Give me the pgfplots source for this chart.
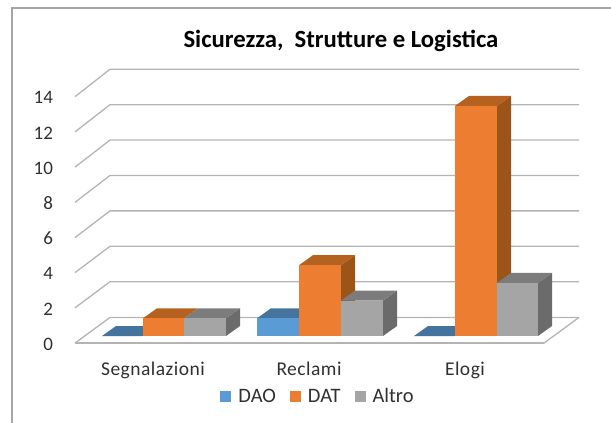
\documentclass[border=0pt]{standalone}
\usepackage{fontspec}
\setmainfont{Carlito}
\usepackage{pgfplots}
\pgfplotsset{compat=1.18}
\definecolor{blueF}{HTML}{5B9BD5}\definecolor{blueT}{HTML}{44739E}
\definecolor{oranF}{HTML}{ED7D31}\definecolor{oranT}{HTML}{B5611F}\definecolor{oranS}{HTML}{9C5419}
\definecolor{grayF}{HTML}{A5A5A5}\definecolor{grayT}{HTML}{7C7C7C}\definecolor{grayS}{HTML}{6B6B6B}
\definecolor{gridc}{HTML}{B4B4B4}\definecolor{txt}{HTML}{303030}
\pgfplotsset{grid3d/.style={draw=gridc,line width=1.3pt,no marks,forget plot,sharp plot},
 face/.style={draw=none,no marks,forget plot,sharp plot},
 barf/.style={draw=none,no marks,forget plot,ybar,bar width=41.6pt,bar shift=0pt}}
\begin{document}
\begin{tikzpicture}
\begin{axis}[name=ax,scale only axis,width=611pt,height=423pt,clip=false,
 xmin=0,xmax=611,ymin=-4.915,ymax=18.983,
 axis line style={draw=none},tick style={draw=none},
 xtick={153,309,465},xticklabels={Segnalazioni,Reclami,Elogi},
 ytick={-0.4,1.59,3.58,5.56,7.55,9.54,11.53,13.52},
 yticklabels={0,2,4,6,8,10,12,14},
 /pgf/number format/assume math mode=true,
 xticklabel style={font=\fontsize{19.5}{21}\selectfont\addfontfeatures{LetterSpace=2.5},text=txt,anchor=center,text height=13pt,text depth=4pt,yshift=52pt},
 yticklabel style={font=\fontsize{19}{21}\selectfont,text=txt,anchor=east,xshift=56.5pt,yshift=-1pt},
 legend style={draw=none,fill=none,at={(axis cs:318,-3.4)},anchor=center,legend columns=3,
  font=\fontsize{20.5}{22}\selectfont\color{txt},
  nodes={text height=13pt,text depth=1pt},
  /tikz/every odd column/.append style={column sep=5pt},
  /tikz/every even column/.append style={column sep=12pt},inner sep=0pt},
 legend image code/.code={\fill[#1] (0pt,-5.5pt) rectangle (11pt,5.5pt);},
]
% chart frame (left and top edge)
\addplot[draw=gray!70,line width=1.2pt,no marks,forget plot,sharp plot] coordinates {(12,-4.915)(12,18.53)(611,18.53)};
% floor and walls
\addplot[grid3d] coordinates {(544,-0.4)(579,1.05)};
\addplot[grid3d] coordinates {(75,-0.4)(544,-0.4)};
\addplot[grid3d] coordinates {(75,-0.4)(110,1.05)(579,1.05)};
\addplot[grid3d] coordinates {(75,1.59)(110,3.07)(579,3.07)};
\addplot[grid3d] coordinates {(75,3.58)(110,5.07)(579,5.07)};
\addplot[grid3d] coordinates {(75,5.56)(110,7.07)(579,7.07)};
\addplot[grid3d] coordinates {(75,7.55)(110,9.07)(579,9.07)};
\addplot[grid3d] coordinates {(75,9.54)(110,11.07)(579,11.07)};
\addplot[grid3d] coordinates {(75,11.53)(110,13.07)(579,13.07)};
\addplot[grid3d] coordinates {(75,13.52)(110,15.07)(579,15.07)};
% --- Segnalazioni: DAO 0, DAT 1, Altro 1
\addplot[face,fill=blueT] coordinates {(102,0)(143,0)(157,0.565)(116,0.565)} -- cycle;
\addplot[face,fill=oranT] coordinates {(143,1)(184,1)(198,1.565)(157,1.565)} -- cycle;
\addplot[barf,fill=oranF] coordinates {(163.5,1)};
\addplot[face,fill=grayS] coordinates {(226,0)(240,0.565)(240,1.565)(226,1)} -- cycle;
\addplot[face,fill=grayT] coordinates {(184,1)(226,1)(240,1.565)(198,1.565)} -- cycle;
\addplot[barf,fill=grayF] coordinates {(205,1)};
% --- Reclami: DAO 1, DAT 4, Altro 2
\addplot[face,fill=blueT] coordinates {(257,1)(299,1)(313,1.565)(271,1.565)} -- cycle;
\addplot[barf,fill=blueF] coordinates {(278,1)};
\addplot[face,fill=oranS] coordinates {(341,0)(355,0.565)(355,4.565)(341,4)} -- cycle;
\addplot[face,fill=oranT] coordinates {(299,4)(341,4)(355,4.565)(313,4.565)} -- cycle;
\addplot[barf,fill=oranF] coordinates {(320,4)};
\addplot[face,fill=grayS] coordinates {(383,0)(397,0.565)(397,2.565)(383,2)} -- cycle;
\addplot[face,fill=grayT] coordinates {(341,2)(383,2)(397,2.565)(355,2.565)} -- cycle;
\addplot[barf,fill=grayF] coordinates {(362,2)};
% --- Elogi: DAO 0, DAT 13, Altro 3
\addplot[face,fill=blueT] coordinates {(414,0)(455,0)(469,0.565)(428,0.565)} -- cycle;
\addplot[face,fill=oranS] coordinates {(497,0)(511,0.565)(511,13.565)(497,13)} -- cycle;
\addplot[face,fill=oranT] coordinates {(455,13)(497,13)(511,13.565)(469,13.565)} -- cycle;
\addplot[barf,fill=oranF] coordinates {(476,13)};
\addplot[face,fill=grayS] coordinates {(538,0)(552,0.565)(552,3.565)(538,3)} -- cycle;
\addplot[face,fill=grayT] coordinates {(497,3)(538,3)(552,3.565)(511,3.565)} -- cycle;
\addplot[barf,fill=grayF] coordinates {(517.5,3)};
% legend keys
\addlegendimage{fill=blueF,draw=none}\addlegendentry{DAO}
\addlegendimage{fill=oranF,draw=none}\addlegendentry{DAT}
\addlegendimage{fill=grayF,draw=none}\addlegendentry{Altro}
\node[font=\fontsize{24.7}{26}\selectfont\bfseries,text=black,anchor=center] at (axis cs:341,16.68) {Sicurezza,\ \ Strutture e Logistica};
\end{axis}
\pgfresetboundingbox
\path (ax.south west) rectangle (ax.north east);
\end{tikzpicture}
\end{document}
